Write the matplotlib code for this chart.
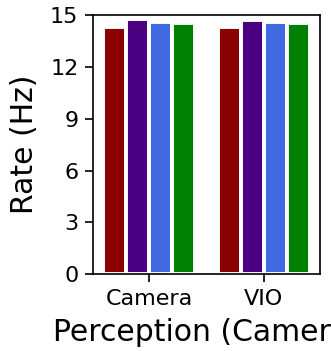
import matplotlib
matplotlib.use("Agg")
import matplotlib.pyplot as plt
import numpy as np

categories = ["Camera", "VIO"]
series_colors = ["#8B0000", "#4B0082", "#4169E1", "#008000"]
rate_series = [
    [14.33, 14.33],
    [14.79, 14.71],
    [14.62, 14.62],
    [14.54, 14.54],
]
yticks = [0, 3, 6, 9, 12, 15]

fig = plt.figure(figsize=(3.31, 3.51), dpi=100)
ax = fig.add_axes([0.281, 0.219, 0.686, 0.738])

x = np.arange(len(categories))
width = 0.2
n = len(rate_series)
for i, (vals, color) in enumerate(zip(rate_series, series_colors)):
    offset = (i - (n - 1) / 2) * width
    ax.bar(x + offset, vals, width, color=color, edgecolor="white", linewidth=2.8)

ax.set_ylim(0, 15)
ax.set_yticks(yticks)
ax.set_xticks(x)
ax.set_xticklabels(categories)
ax.tick_params(axis="both", labelsize=16, length=5.5, width=1.2, pad=5)
for spine in ax.spines.values():
    spine.set_linewidth(1.2)
    spine.set_zorder(3)

ax.set_ylabel("Rate (Hz)", fontsize=21.5, labelpad=8)
ax.set_xlabel("Perception (Camera)", fontsize=21.5, labelpad=7)

fig.savefig("out.png", dpi=100)
